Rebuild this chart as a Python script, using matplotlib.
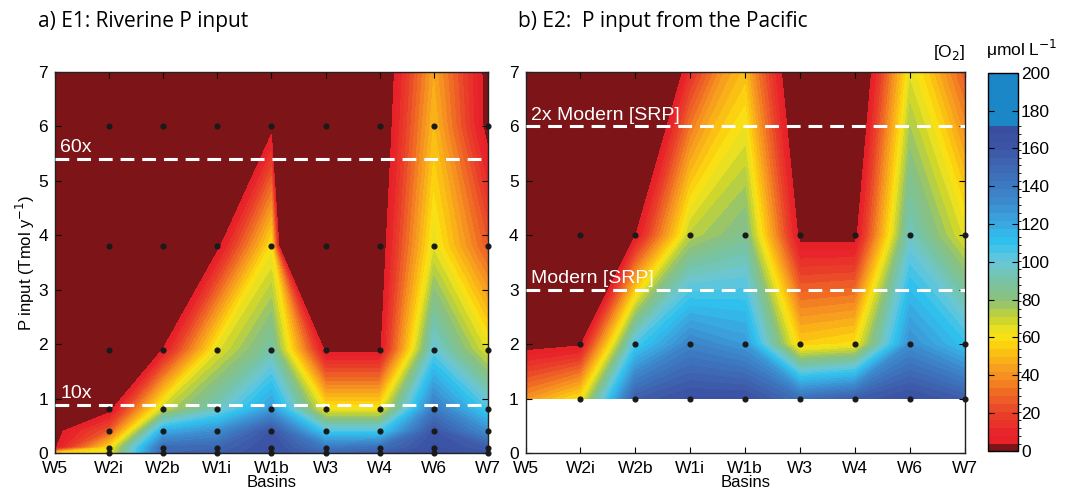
"""
O2 contour maps for the two P-input experiments (E1 riverine, E2 Pacific).
"""

import numpy as np
import matplotlib.pyplot as plt
from matplotlib.colors import LinearSegmentedColormap, ListedColormap, BoundaryNorm
from matplotlib.cm import ScalarMappable

plt.rcParams['font.family'] = ['Liberation Sans', 'DejaVu Sans']

basins = ['W5', 'W2i', 'W2b', 'W1i', 'W1b', 'W3', 'W4', 'W6', 'W7']

# E1: riverine P input (Tmol/y) and O2 (umol/L), one row per basin
# negative O2 = sulfidic (drawn dark red)
a_p = [0, 0.1, 0.4, 0.8, 1.9, 3.8, 6.0, 7.6]
a_o2 = [
    [55, 2, -0.3, -20, -60, -150, -250, -300],      # W5
    [62, 58, 25, -0.3, -30, -80, -150, -200],       # W2i
    [150, 148, 118, 70, 4, -40, -200, -300],        # W2b
    [155, 150, 130, 95, 65, 0, -300, -400],         # W1i
    [165, 165, 160, 125, 90, 60, -0.6, -100],       # W1b
    [150, 140, 105, 62, 0.7, -343, -400, -450],     # W3
    [155, 145, 105, 62, 0.7, -4.9, -10.4, -13],     # W4
    [170, 165, 160, 140, 100, 65, 50, 42],          # W6
    [160, 155, 130, 105, 65, 25, -1, -1.75],        # W7
]
a_lines = [5.4, 0.89]
a_line_labels = ['60x', '10x']

# E2: P input from the Pacific
b_p = [1, 2, 4, 8]
b_o2 = [
    [40, -1.5, -50, -100],      # W5
    [60, 1.75, -30, -80],       # W2i
    [155, 105, 3, -50],         # W2b
    [165, 135, 72, -6.3],       # W1i
    [165, 125, 85, 40],         # W1b
    [145, 55, -0.1, -25],       # W3
    [155, 60, -0.4, -29.4],     # W4
    [165, 130, 95, 55],         # W6
    [155, 110, 65, 12],         # W7
]
b_lines = [6, 3]
b_line_labels = ['2x Modern [SRP]', 'Modern [SRP]']

# colour scale
anoxic = '#7d1417'
anchor_vals = [3.5, 10, 20, 30, 40, 50, 58, 62, 70, 80, 90, 100, 110, 120, 130, 140, 150, 160, 172]
anchor_cols = ['#e51f26', '#e7262a', '#e9432a', '#f06a25', '#f59321', '#fbb916', '#fcd80f',
               '#f5e51a', '#c9d42f', '#8bc17b', '#77c3a6', '#6ac7d6', '#2fc3f0', '#39a9e1',
               '#3c8ed0', '#3d7bc2', '#3e68b3', '#3d56a6', '#3a4d9e']

grad = LinearSegmentedColormap.from_list(
    'o2', [((v - 3.5) / (172 - 3.5), c) for v, c in zip(anchor_vals, anchor_cols)])
bounds = np.r_[0, np.linspace(3.5, 172, 41), 200]
mids = (bounds[1:-2] + bounds[2:-1]) / 2
band_cols = [anoxic] + [grad((m - 3.5) / (172 - 3.5)) for m in mids] + ['#1c87c7']
cmap = ListedColormap(band_cols)
cmap.set_under(anoxic)
norm = BoundaryNorm(bounds, cmap.N)

fig = plt.figure(figsize=(10.66, 4.96), dpi=100)
ax_a = fig.add_axes([0.0516, 0.0867, 0.406, 0.768])
ax_b = fig.add_axes([0.493, 0.0867, 0.412, 0.768])
cax = fig.add_axes([0.9265, 0.0913, 0.0287, 0.762])

x = np.arange(len(basins))
panels = [(ax_a, a_p, a_o2, a_lines, a_line_labels),
          (ax_b, b_p, b_o2, b_lines, b_line_labels)]

for ax, p, o2, lines, labels in panels:
    z = np.array(o2).T
    ax.contourf(x, p, z, levels=bounds, cmap=cmap, norm=norm, extend='min')

    # model runs (black dots)
    for xi in x[1:]:
        for pi in p:
            if pi <= 7:
                ax.plot(xi, pi, 'o', color='#1a1a1a', ms=3.4, clip_on=False, zorder=5)

    for yl, lab in zip(lines, labels):
        ax.axhline(yl, color='white', lw=2.2, ls=(0, (4.5, 2.6)), zorder=4)
        ax.text(0.1, yl + 0.05, lab, color='white', fontsize=14, va='bottom', ha='left', zorder=6)

    ax.set_xlim(0, 8)
    ax.set_ylim(0, 7)
    ax.set_xticks(x)
    ax.set_xticklabels(basins)
    ax.set_yticks(range(0, 8))
    ax.tick_params(direction='in', top=True, right=True, labelsize=12.5, length=4)
    ax.tick_params(axis='x', pad=6)
    ax.tick_params(axis='y', pad=5)
    ax.set_xlabel('Basins', fontsize=12, labelpad=-1)
    for s in ax.spines.values():
        s.set_linewidth(1.0)
        s.set_color('#222222')

ax_a.set_ylabel('P input (Tmol y$^{-1}$)', fontsize=12, labelpad=1)

cb = fig.colorbar(ScalarMappable(norm=norm, cmap=cmap), cax=cax, spacing='proportional',
                  ticks=range(0, 201, 20))
cb.outline.set_linewidth(1.0)
cax.tick_params(direction='in', left=True, right=True, labelsize=12.5, length=4, pad=2)

fig.text(0.036, 0.956, 'a) E1: Riverine P input', fontsize=15, family=['Open Sans', 'DejaVu Sans'],
         va='center', ha='left')
fig.text(0.486, 0.956, 'b) E2:  P input from the Pacific', fontsize=15,
         family=['Open Sans', 'DejaVu Sans'], va='center', ha='left')
fig.text(0.875, 0.895, '[O$_2$]', fontsize=12.5, va='center', ha='left')
fig.text(0.925, 0.9, 'μmol L$^{-1}$', fontsize=12.5, va='center', ha='left')

fig.savefig('out.png', dpi=100)
